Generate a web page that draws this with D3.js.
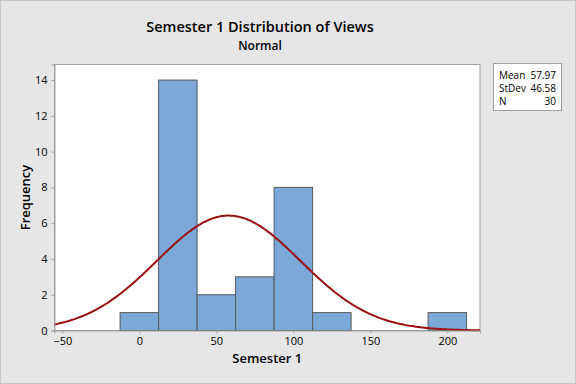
<!DOCTYPE html>
<html><head><meta charset="utf-8">
<script src="https://cdn.jsdelivr.net/npm/d3@7"></script>
<style>
html,body{margin:0;padding:0;background:#e6e6e6;}
svg{display:block;font-family:"Open Sans","Noto Sans",sans-serif;}
</style></head>
<body>
<script>
const binCenters = [0, 25, 50, 75, 100, 125, 150, 175, 200];
const counts = [1, 14, 2, 3, 8, 1, 0, 0, 1];
const binWidth = 25;
const xTicks = [-50, 0, 50, 100, 150, 200];
const yTicks = [0, 2, 4, 6, 8, 10, 12, 14];
const statLabels = ["Mean", "StDev", "N"];
const statValues = ["57.97", "46.58", "30"];
const mean = 57.97, sd = 46.58, n = 30;

const W = 576, H = 384;
const m = {left: 54.5, right: 96, top: 64.5, bottom: 53.5};
const svg = d3.select("body").append("svg").attr("width", W).attr("height", H);
svg.append("rect").attr("x",0.5).attr("y",0.5).attr("width",W-1).attr("height",H-1)
  .attr("fill","#e6e6e6").attr("stroke","#c8c8c8");

const x = d3.scaleLinear().domain([-55.1, 221.2]).range([m.left, W - m.right]);
const y = d3.scaleLinear().domain([0, 14.87]).range([H - m.bottom, m.top]);

svg.append("rect").attr("x", m.left).attr("y", m.top)
  .attr("width", W - m.right - m.left).attr("height", H - m.bottom - m.top)
  .attr("fill", "#ffffff").attr("stroke", "#a0a0a0").attr("stroke-width", 1);

const g = svg.append("g");
g.selectAll("rect.bar").data(binCenters.map((c,i)=>({c, v: counts[i]})).filter(d=>d.v>0))
  .join("rect").attr("class","bar")
  .attr("x", d => x(d.c - binWidth/2))
  .attr("width", d => x(d.c + binWidth/2) - x(d.c - binWidth/2))
  .attr("y", d => y(d.v))
  .attr("height", d => y(0) - y(d.v))
  .attr("fill", "#7ba7d9").attr("stroke", "#595959").attr("stroke-width", 1);

const dom = x.domain();
const pts = d3.range(0, 301).map(i => {
  const xv = dom[0] + (dom[1]-dom[0]) * i / 300;
  const yv = n * binWidth / (sd * Math.sqrt(2*Math.PI)) * Math.exp(-0.5 * ((xv-mean)/sd)**2);
  return [xv, yv];
});
g.append("path").datum(pts)
  .attr("d", d3.line().x(d => x(d[0])).y(d => y(d[1])))
  .attr("fill", "none").attr("stroke", "#9b1111").attr("stroke-width", 2);

const xAxis = svg.append("g").attr("transform", `translate(0,${H - m.bottom})`)
  .call(d3.axisBottom(x).tickValues(xTicks).tickSize(3).tickPadding(4));
const yAxis = svg.append("g").attr("transform", `translate(${m.left},0)`)
  .call(d3.axisLeft(y).tickValues(yTicks).tickSize(3).tickPadding(4));
[xAxis, yAxis].forEach(a => {
  a.select(".domain").attr("stroke", "#a0a0a0");
  a.selectAll(".tick line").attr("stroke", "#a0a0a0");
  a.selectAll(".tick text").attr("fill", "#000").style("font-size", "11px").style("font-family", '"Open Sans",sans-serif');
});

svg.append("text").attr("x", 260).attr("y", 32).attr("text-anchor", "middle")
  .style("font-size", "14.5px").style("font-weight", "600").text("Semester 1 Distribution of Views");
svg.append("text").attr("x", 260).attr("y", 49.5).attr("text-anchor", "middle")
  .style("font-size", "12px").style("font-weight", "600").text("Normal");
svg.append("text").attr("x", (m.left + W - m.right)/2).attr("y", 363).attr("text-anchor", "middle")
  .style("font-size", "13px").style("font-weight", "600").text("Semester 1");
svg.append("text").attr("transform", `translate(30,${(m.top + H - m.bottom)/2}) rotate(-90)`)
  .attr("text-anchor", "middle")
  .style("font-size", "13px").style("font-weight", "600").text("Frequency");

const lg = svg.append("g");
lg.append("rect").attr("x", 493.5).attr("y", 63.5).attr("width", 68).attr("height", 47)
  .attr("fill", "#fff").attr("stroke", "#a0a0a0");
statLabels.forEach((s, i) => {
  lg.append("text").attr("x", 499).attr("y", 78.5 + i*13.3).style("font-size", "10px").text(s);
  lg.append("text").attr("x", 556).attr("y", 78.5 + i*13.3).attr("text-anchor", "end").style("font-size", "10px").text(statValues[i]);
});
</script>
</body></html>
